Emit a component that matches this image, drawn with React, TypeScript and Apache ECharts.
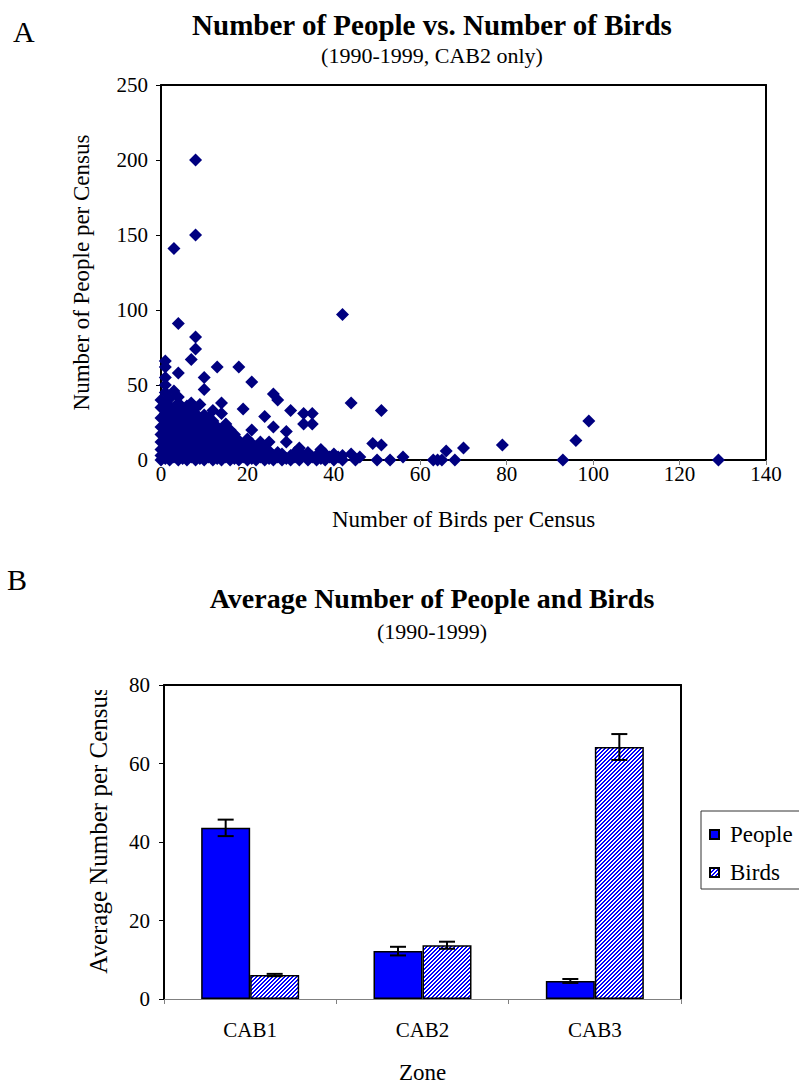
import { useEffect, useRef } from "react";
import * as echarts from "echarts";

const SERIF = '"Liberation Serif", "Times New Roman", serif';

// Panel A: one census = [birds counted, people counted] (CAB2, 1990-1999)
const censusCounts: [number, number][] = [
  [0, 0], [0, 3], [0, 7], [0, 12], [0, 17], [0, 22], [0, 28], [0, 35], [0, 40],
  [1, 1], [1, 5], [1, 10], [1, 15], [1, 20], [1, 26], [1, 31], [1, 38], [1, 45], [1, 50], [1, 55], [1, 62], [1, 66],
  [2, 0], [2, 4], [2, 8], [2, 13], [2, 19], [2, 24], [2, 30], [2, 36], [2, 41],
  [3, 2], [3, 6], [3, 11], [3, 16], [3, 22], [3, 27], [3, 33], [3, 46], [3, 141],
  [4, 0], [4, 3], [4, 9], [4, 14], [4, 19], [4, 25], [4, 31], [4, 38], [4, 42], [4, 58], [4, 91],
  [5, 1], [5, 5], [5, 10], [5, 16], [5, 21], [5, 27], [5, 34],
  [6, 0], [6, 4], [6, 8], [6, 13], [6, 18], [6, 24], [6, 30], [6, 36],
  [7, 2], [7, 6], [7, 11], [7, 17], [7, 22], [7, 28], [7, 33], [7, 38], [7, 67],
  [8, 0], [8, 3], [8, 9], [8, 14], [8, 20], [8, 26], [8, 31], [8, 35], [8, 74], [8, 82], [8, 150], [8, 200],
  [9, 1], [9, 5], [9, 10], [9, 16], [9, 22], [9, 27], [9, 37],
  [10, 0], [10, 4], [10, 8], [10, 13], [10, 19], [10, 25], [10, 30], [10, 47], [10, 55],
  [11, 2], [11, 6], [11, 12], [11, 17], [11, 23], [11, 28],
  [12, 0], [12, 3], [12, 9], [12, 15], [12, 20], [12, 26], [12, 33],
  [13, 1], [13, 5], [13, 11], [13, 16], [13, 22], [13, 62],
  [14, 0], [14, 4], [14, 8], [14, 14], [14, 19], [14, 31], [14, 38],
  [15, 2], [15, 6], [15, 12], [15, 17], [15, 24],
  [16, 0], [16, 4], [16, 9], [16, 14], [16, 20],
  [17, 1], [17, 6], [17, 11], [17, 17],
  [18, 0], [18, 3], [18, 8], [18, 13], [18, 62],
  [19, 2], [19, 5], [19, 10], [19, 34],
  [20, 0], [20, 4], [20, 8], [20, 14],
  [21, 1], [21, 6], [21, 11], [21, 20], [21, 52],
  [22, 0], [22, 3], [22, 9],
  [23, 2], [23, 5], [23, 12],
  [24, 0], [24, 4], [24, 8], [24, 29],
  [25, 1], [25, 6], [25, 12],
  [26, 0], [26, 3], [26, 22], [26, 44],
  [27, 2], [27, 5], [27, 40],
  [28, 0], [28, 4],
  [29, 1], [29, 12], [29, 19],
  [30, 0], [30, 3], [30, 33],
  [31, 2], [31, 5],
  [32, 0], [32, 8],
  [33, 3], [33, 24], [33, 31],
  [34, 0], [34, 5],
  [35, 2], [35, 24], [35, 31],
  [36, 0], [36, 3],
  [37, 1], [37, 7],
  [38, 0], [38, 4],
  [39, 2],
  [40, 0], [40, 4],
  [41, 2],
  [42, 0], [42, 3], [42, 97],
  [44, 4], [44, 38],
  [45, 0], [46, 2], [49, 11], [50, 0], [51, 10], [51, 33], [53, 0], [56, 2],
  [63, 0], [64, 0], [65, 0], [66, 6], [68, 0], [70, 8], [79, 10],
  [93, 0], [96, 13], [99, 26], [129, 0],
];

// Panel B: zone averages with their error bars
const zones = ["CAB1", "CAB2", "CAB3"];
const avgPeople = [43.6, 12.2, 4.6];
const avgBirds = [6.1, 13.7, 64.2];
const peopleErr = [2.1, 1.1, 0.5];
const birdsErr = [0.3, 0.9, 3.3];

const BAR_WIDTH = 49;

function makeHatch(): HTMLCanvasElement {
  const c = document.createElement("canvas");
  c.width = 4;
  c.height = 4;
  const ctx = c.getContext("2d")!;
  ctx.fillStyle = "#ffffff";
  ctx.fillRect(0, 0, 4, 4);
  ctx.fillStyle = "#0000ff";
  for (let y = 0; y < 4; y++) {
    for (let x = 0; x < 4; x++) {
      if ((x + y) % 4 < 2) ctx.fillRect(x, y, 1, 1);
    }
  }
  return c;
}

function errorBars(offset: number) {
  return (_params: any, api: any) => {
    const i = api.value(0);
    const v = api.value(1);
    const e = api.value(2);
    const hi = api.coord([i, v + e]);
    const lo = api.coord([i, v - e]);
    const x = hi[0] + offset;
    const cap = 8;
    const style = { stroke: "#000", lineWidth: 2 };
    return {
      type: "group",
      children: [
        { type: "line", shape: { x1: x, y1: hi[1], x2: x, y2: lo[1] }, style },
        { type: "line", shape: { x1: x - cap, y1: hi[1], x2: x + cap, y2: hi[1] }, style },
        { type: "line", shape: { x1: x - cap, y1: lo[1], x2: x + cap, y2: lo[1] }, style },
      ],
    };
  };
}

const frameAxis = {
  show: true,
  axisLine: { show: true, onZero: false, lineStyle: { color: "#000", width: 2 } },
  axisTick: { show: false },
  axisLabel: { show: false },
  splitLine: { show: false },
};

export default function App() {
  const ref = useRef<HTMLDivElement>(null);

  useEffect(() => {
    const chart = echarts.init(ref.current!, null, { renderer: "svg" });
    const hatch: any = { image: makeHatch(), repeat: "repeat" };

    const titleText = (text: string, left: number, top: number, size: number, bold = false, align = "center") => ({
      text,
      left,
      top,
      padding: 0,
      textAlign: align,
      textStyle: { fontFamily: SERIF, fontSize: size, fontWeight: bold ? "bold" : "normal", color: "#000" },
    });

    const option: any = {
      animation: false,
      textStyle: { fontFamily: SERIF, color: "#000" },
      title: [
        titleText("A", 13, 16, 30, false, "left"),
        titleText("Number of People vs. Number of Birds", 432, 10, 29, true),
        titleText("(1990-1999, CAB2 only)", 432, 44, 22),
        titleText("B", 7, 564, 30, false, "left"),
        titleText("Average Number of People and Birds", 432, 584, 28, true),
        titleText("(1990-1999)", 432, 620, 22),
      ],
      grid: [
        { left: 161, top: 85, width: 605, height: 375, containLabel: false },
        { left: 164, top: 685, width: 517, height: 316, containLabel: false },
      ],
      xAxis: [
        {
          type: "value",
          gridIndex: 0,
          min: 0,
          max: 140,
          interval: 20,
          name: "Number of Birds per Census",
          nameLocation: "middle",
          nameGap: 48,
          nameTextStyle: { fontFamily: SERIF, fontSize: 23, color: "#000" },
          axisLine: { onZero: false, lineStyle: { color: "#000", width: 2 } },
          axisTick: { show: true, inside: false, length: 5, lineStyle: { color: "#808080", width: 1 } },
          axisLabel: { fontFamily: SERIF, fontSize: 21, color: "#000", margin: 3 },
          splitLine: { show: false },
        },
        { ...frameAxis, type: "value", gridIndex: 0, position: "top", min: 0, max: 140 },
        {
          type: "category",
          gridIndex: 1,
          data: zones,
          name: "Zone",
          nameLocation: "middle",
          nameGap: 62,
          nameTextStyle: { fontFamily: SERIF, fontSize: 23, color: "#000" },
          axisLine: { onZero: false, lineStyle: { color: "#808080", width: 1 } },
          axisTick: { show: true, length: 5, lineStyle: { color: "#808080", width: 1 } },
          axisLabel: { fontFamily: SERIF, fontSize: 21, color: "#000", margin: 20 },
          splitLine: { show: false },
        },
        { ...frameAxis, type: "category", gridIndex: 1, position: "top", data: zones },
      ],
      yAxis: [
        {
          type: "value",
          gridIndex: 0,
          min: 0,
          max: 250,
          interval: 50,
          name: "Number of People per Census",
          nameLocation: "middle",
          nameGap: 68,
          nameRotate: 90,
          nameTextStyle: { fontFamily: SERIF, fontSize: 23, color: "#000" },
          axisLine: { show: true, onZero: false, lineStyle: { color: "#000", width: 2 } },
          axisTick: { show: true, length: 5, lineStyle: { color: "#000", width: 1 } },
          axisLabel: { fontFamily: SERIF, fontSize: 21, color: "#000", margin: 13 },
          splitLine: { show: false },
        },
        { ...frameAxis, type: "value", gridIndex: 0, position: "right", min: 0, max: 250 },
        {
          type: "value",
          gridIndex: 1,
          min: 0,
          max: 80,
          interval: 20,
          axisLine: { show: true, onZero: false, lineStyle: { color: "#000", width: 2 } },
          axisTick: { show: true, length: 5, lineStyle: { color: "#000", width: 1 } },
          axisLabel: { fontFamily: SERIF, fontSize: 21, color: "#000", margin: 14 },
          splitLine: { show: false },
        },
        { ...frameAxis, type: "value", gridIndex: 1, position: "right", min: 0, max: 80 },
      ],
      legend: {
        data: ["People", "Birds"],
        orient: "vertical",
        left: 701,
        top: 811,
        padding: [12, 8, 5, 8],
        itemWidth: 9,
        itemHeight: 9,
        itemGap: 15,
        icon: "rect",
        borderColor: "#333",
        borderWidth: 1,
        textStyle: { fontFamily: SERIF, fontSize: 23, color: "#000", padding: [0, 0, 0, 6] },
      },
      graphic: [
        {
          type: "text",
          x: 98,
          y: 830,
          rotation: Math.PI / 2,
          z: 50,
          style: {
            text: "Average Number per Census",
            font: `25px ${SERIF}`,
            fill: "#000",
            align: "center",
            verticalAlign: "middle",
          },
        },
        {
          type: "rect",
          z: 60,
          shape: { x: 82, y: 660, width: 32, height: 30 },
          style: { fill: "#fff" },
        },
      ],
      series: [
        {
          name: "Census",
          type: "scatter",
          xAxisIndex: 0,
          yAxisIndex: 0,
          symbol: "diamond",
          symbolSize: 13,
          clip: false,
          itemStyle: { color: "#000080", opacity: 1 },
          data: censusCounts,
        },
        {
          name: "People",
          type: "bar",
          xAxisIndex: 2,
          yAxisIndex: 2,
          barWidth: BAR_WIDTH,
          barGap: "0%",
          itemStyle: { color: "#0000ff", borderColor: "#000", borderWidth: 1.5 },
          data: avgPeople,
        },
        {
          name: "Birds",
          type: "bar",
          xAxisIndex: 2,
          yAxisIndex: 2,
          barWidth: BAR_WIDTH,
          barGap: "0%",
          itemStyle: { color: hatch, borderColor: "#000", borderWidth: 1.5 },
          data: avgBirds,
        },
        {
          name: "People error",
          type: "custom",
          xAxisIndex: 2,
          yAxisIndex: 2,
          z: 10,
          renderItem: errorBars(-BAR_WIDTH / 2),
          encode: { x: 0, y: 1 },
          data: avgPeople.map((v, i) => [i, v, peopleErr[i]]),
        },
        {
          name: "Birds error",
          type: "custom",
          xAxisIndex: 2,
          yAxisIndex: 2,
          z: 10,
          renderItem: errorBars(BAR_WIDTH / 2),
          encode: { x: 0, y: 1 },
          data: avgBirds.map((v, i) => [i, v, birdsErr[i]]),
        },
      ],
    };

    chart.setOption(option);
    return () => chart.dispose();
  }, []);

  return (
    <div
      ref={ref}
      style={{ position: "absolute", left: 0, top: 0, width: 799, height: 1085, background: "#fff" }}
    />
  );
}
